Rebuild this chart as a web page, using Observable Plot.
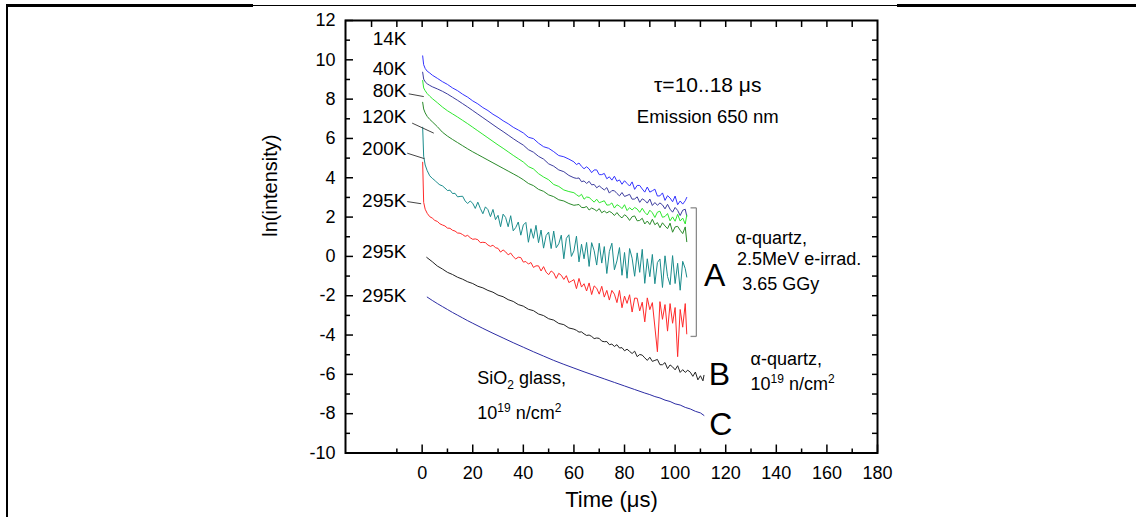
<!DOCTYPE html>
<html><head><meta charset="utf-8">
<script src="https://cdn.jsdelivr.net/npm/d3@7"></script>
<script src="https://cdn.jsdelivr.net/npm/@observablehq/plot@0.6"></script>
<style>
html,body{margin:0;padding:0;background:#fff;}
#wrap{position:relative;width:1136px;height:517px;overflow:hidden;background:#fff;}
#wrap svg{display:block;}
</style></head><body>
<div id="wrap"></div>
<script>
// ---- time grids (µs) ----
const tUpper = [0.2,0.6,1.2,2,3,4,6,8,10,12,14,16,18,20,22,24,26,28,30,32,34,36,38,
  40,42,44,46,48,50,52,54,56,58,
  60,61,62,63,64,65,66,67,68,69,70,71,72,73,74,75,76,77,78,79,80,81,82,83,84,85,86,87,88,89,
  90,91,92,93,94,95,96,97,98,99,100,101,102,103,104,104.6];
const tNoisy = [0.2,0.6,1.2,2,3,4,5,6,7,8,9,10,11,12,13,14,15,16,17,18,19,20,21,22,23,24,25,26,27,28,29,
  30,31,32,33,34,35,36,37,38,39,40,41,42,43,44,45,46,47,48,49,50,51,52,53,54,55,56,57,58,59,
  60,61,62,63,64,65,66,67,68,69,70,71,72,73,74,75,76,77,78,79,80,81,82,83,84,85,86,87,88,89,
  90,91,92,93,94,95,96,97,98,99,100,101,102,103,104,104.6];
const tB = [1.8,4,6,8,10,12,14,16,18,20,22,24,26,28,30,32,34,36,38,40,42,44,46,48,50,52,54,56,58,60,
  61,62,63,64,65,66,67,68,69,70,71,72,73,74,75,76,77,78,79,80,81,82,83,84,85,86,87,88,89,90,
  91,92,93,94,95,96,97,98,99,100,101,102,103,104,105,106,107,108,109,110,111,111.4];
const tC = [2,4,6,8,10,12,14,16,18,20,24,28,32,36,40,44,48,52,56,60,64,68,72,76,80,84,88,90,92,94,96,98,100,102,104,106,108,110,111.4];

// ---- ln(intensity) values ----
const v14K = [10.20,9.75,9.56,9.42,9.33,9.22,9.06,8.89,8.75,8.57,8.43,8.25,8.10,7.91,7.76,7.57,7.42,7.23,7.08,6.90,6.75,6.57,6.43,
  6.28,6.06,5.99,5.76,5.58,5.50,5.33,5.13,5.07,4.95,
  4.81,4.67,4.75,4.58,4.46,4.56,4.45,4.26,4.40,4.40,4.16,4.16,4.22,3.95,4.05,3.88,4.08,3.82,3.89,3.67,
  3.85,3.71,3.58,3.79,3.41,3.61,3.61,3.43,3.27,3.53,3.27,3.34,3.42,3.07,3.08,3.23,2.85,3.09,2.97,2.78,
  3.07,2.63,2.82,2.66,2.83,3.00];
const v40K = [9.37,9.02,8.88,8.78,8.70,8.63,8.52,8.40,8.26,8.10,7.94,7.77,7.60,7.42,7.24,7.06,6.88,6.70,6.52,6.35,6.17,5.99,5.82,
  5.66,5.43,5.30,5.09,4.95,4.71,4.59,4.40,4.31,4.12,
  4.00,3.97,3.99,3.80,3.84,3.71,3.82,3.64,3.66,3.49,3.59,3.48,3.38,3.50,3.22,3.35,3.34,3.20,3.08,3.25,
  3.05,3.10,3.16,2.91,2.92,3.03,2.75,2.93,2.85,2.71,2.92,2.59,2.74,2.60,2.72,2.62,2.42,2.65,2.40,2.25,
  2.49,2.34,2.08,2.35,2.40,2.05];
const v80K = [8.95,8.57,8.43,8.28,8.15,8.03,7.82,7.60,7.41,7.25,7.09,6.92,6.75,6.57,6.39,6.21,6.03,5.85,5.67,5.50,5.32,5.14,4.97,
  4.80,4.57,4.45,4.21,4.04,3.90,3.66,3.56,3.38,3.30,
  3.24,3.14,3.05,3.16,2.91,3.02,3.00,2.88,2.76,2.91,2.73,2.78,2.83,2.61,2.62,2.72,2.46,2.63,2.56,2.43,
  2.63,2.33,2.48,2.36,2.49,2.41,2.24,2.45,2.24,2.11,2.35,2.22,1.98,2.25,2.30,1.99,2.03,2.18,1.81,2.01,
  1.79,2.14,1.80,1.95,1.65,2.10];
const v120K = [7.84,7.50,7.30,7.12,6.97,6.85,6.60,6.32,6.12,5.95,5.79,5.63,5.47,5.32,5.18,5.04,4.90,4.76,4.62,4.48,4.34,4.20,4.06,
  3.90,3.71,3.60,3.41,3.31,3.13,3.04,2.88,2.82,2.69,
  2.60,2.62,2.64,2.49,2.48,2.54,2.36,2.46,2.40,2.31,2.43,2.22,2.31,2.21,2.29,2.22,2.08,2.23,2.06,1.96,
  2.12,2.02,1.83,2.02,2.06,1.81,1.83,1.94,1.65,1.80,1.62,1.89,1.61,1.72,1.46,1.71,1.55,1.41,1.69,1.23,
  1.50,1.53,1.33,1.16,1.50,0.75];
const v200K = [6.57,5.10,4.65,
  4.36,4.10,3.97,3.87,3.74,3.64,3.59,3.48,3.35,3.37,
  3.20,3.21,3.03,3.05,3.06,2.82,2.69,2.82,2.70,2.44,
  2.76,2.44,2.17,2.52,2.38,2.02,2.39,1.87,2.09,1.51,
  2.15,1.98,1.51,2.07,1.30,1.47,1.75,1.08,1.60,1.73,
  0.72,1.41,0.92,1.58,0.70,1.34,0.42,1.06,1.24,0.40,
  1.29,0.44,0.64,1.08,-0.12,0.92,1.10,0.00,0.28,1.03,
  -0.28,0.62,-0.12,0.71,-0.51,0.70,0.29,-0.44,0.67,-0.34,
  0.50,-0.87,0.25,0.67,-0.68,-0.23,0.45,-0.96,0.20,-1.11,
  0.40,-0.09,-1.01,0.18,-0.81,0.36,-1.37,-0.12,-1.03,0.10,
  -1.39,-0.31,-0.13,-1.58,0.03,-1.02,-1.44,0.04,-1.38,-0.35,
  -1.72,-0.25,-0.62,-1.05];
const v295K = [4.79,2.75,2.40,
  2.19,2.02,1.95,1.83,1.78,1.66,1.60,1.55,1.44,1.43,
  1.33,1.29,1.19,1.18,1.11,1.02,1.07,0.95,0.87,0.89,
  0.85,0.70,0.72,0.70,0.58,0.51,0.57,0.44,0.41,0.22,
  0.33,0.23,0.08,0.17,-0.01,-0.13,-0.04,-0.06,-0.29,-0.26,
  -0.39,-0.31,-0.56,-0.48,-0.48,-0.74,-0.52,-0.80,-0.93,-0.74,
  -0.84,-1.12,-0.86,-0.96,-1.17,-0.98,-1.33,-1.26,-1.18,-1.64,
  -1.12,-1.56,-1.39,-1.76,-1.35,-1.94,-1.50,-1.62,-1.92,-1.52,
  -2.07,-1.73,-2.22,-1.73,-1.92,-2.35,-1.73,-2.61,-2.02,-2.39,
  -1.95,-2.83,-2.12,-2.13,-2.77,-2.33,-3.33,-2.11,-2.71,-2.35,
  -3.59,-4.85,-2.30,-3.20,-2.45,-3.80,-2.40,-3.40,-2.60,-5.10,
  -2.70,-3.60,-2.40,-3.94];
const vB = [-0.05,-0.27,-0.49,-0.64,-0.81,-0.92,-1.06,-1.16,-1.29,-1.38,-1.52,-1.60,-1.73,-1.82,-1.97,
  -2.05,-2.20,-2.29,-2.45,-2.53,-2.69,-2.76,-2.93,-3.01,-3.17,-3.24,-3.41,-3.47,-3.64,-3.70,
  -3.76,-3.85,-3.84,-3.94,-4.02,-4.00,-4.07,-4.18,-4.15,-4.17,
  -4.31,-4.34,-4.33,-4.49,-4.46,-4.58,-4.49,-4.66,-4.64,-4.80,
  -4.72,-4.83,-4.94,-4.82,-5.10,-4.99,-5.02,-5.16,-5.29,-5.13,
  -5.34,-5.29,-5.24,-5.51,-5.51,-5.40,-5.71,-5.52,-5.62,-5.77,
  -5.56,-5.90,-5.76,-5.90,-5.79,-5.89,-6.10,-5.88,-6.28,-6.07,
  -6.33,-6.05];
const vC = [-2.07,-2.24,-2.40,-2.55,-2.70,-2.85,-2.99,-3.13,-3.27,-3.40,-3.66,-3.91,-4.15,-4.39,-4.62,-4.85,-5.07,-5.29,-5.49,-5.68,
  -5.87,-6.05,-6.23,-6.41,-6.59,-6.77,-6.95,-7.03,-7.13,-7.20,-7.31,-7.38,-7.50,-7.56,-7.68,-7.76,-7.88,-7.96,-8.09];

const seriesKeys = ["14K","40K","80K","120K","200K","295K A","295K B","295K C"];
const seriesColors = ["#3434ff","#3c3c9e","#2ee82e","#2a8a2a","#1a8c8c","#ff2a2a","#222222","#2c2ca4"];
const seriesT = [tUpper,tUpper,tUpper,tUpper,tNoisy,tNoisy,tB,tC];
const seriesV = [v14K,v40K,v80K,v120K,v200K,v295K,vB,vC];

// ---- ticks ----
const xMajor = [0,20,40,60,80,100,120,140,160,180];
const xMinor = [-10,10,30,50,70,90,110,130,150,170];
const xTop = [-20,-10,0,10,20,30,40,50,60,70,80,90,100,110,120,130,140,150,160,170];
const yMajor = [-10,-8,-6,-4,-2,0,2,4,6,8,10,12];
const yMinor = [-9,-7,-5,-3,-1,1,3,5,7,9,11];
const yRight = [-9,-8,-7,-6,-5,-4,-3,-2,-1,0,1,2,3,4,5,6,7,8,9,10,11];

// ---- annotations ----
const tempLabels = ["14K","40K","80K","120K","200K","295K","295K","295K"];
const tempLabelY = [11.07,9.54,8.44,7.08,5.47,2.84,0.21,-1.99];
const tempLabelX = -6.2;
const leaderX1 = [-5.3,-3.95,-5.9,-5.9];
const leaderY1 = [8.27,6.78,5.25,2.79];
const leaderX2 = [0.65,4.6,0.93,-0.4];
const leaderY2 = [8.13,6.27,4.97,2.68];
const bracketX = [106.1,108.4];
const bracketY = [2.47,-4.07];
const letters = ["A","B","C"];
const letterX = [115.6,117.5,118.1];
const letterY = [-0.97,-6.0,-8.57];
const noteText = ["α-quartz,","2.5MeV e-irrad.","3.65 GGy","α-quartz,","10^{19} n/cm^{2}","SiO_{2} glass,","10^{19} n/cm^{2}"];
const noteX = [123.9,124.5,126.5,129.8,129.8,21.8,21.8];
const noteY = [0.9,-0.12,-1.39,-5.21,-6.52,-6.18,-7.96];
const headText = ["τ=10..18 μs","Emission 650 nm"];
const headX = [112.9,112.9];
const headY = [8.69,7.07];
const headSize = [21,18.5];

const rows = [];
seriesKeys.forEach((k,i)=>seriesT[i].forEach((t,j)=>rows.push({key:k,t,v:seriesV[i][j]})));

const links = leaderX1.map((x,i)=>({x1:x,y1:leaderY1[i],x2:leaderX2[i],y2:leaderY2[i]}));
const bracket = [
  {x1:bracketX[1],y1:bracketY[0],x2:bracketX[1],y2:bracketY[1]},
  {x1:bracketX[0],y1:bracketY[0],x2:bracketX[1],y2:bracketY[0]},
  {x1:bracketX[0],y1:bracketY[1],x2:bracketX[1],y2:bracketY[1]}
];
const idx = a => a.map((_,i)=>i);
const blank = () => "";

const chart = Plot.plot({
  width: 1136, height: 517,
  marginLeft: 345, marginRight: 259, marginTop: 20, marginBottom: 64.5,
  x: {domain: [-30.3, 180], label: null},
  y: {domain: [-10, 12], label: null},
  color: {domain: seriesKeys, range: seriesColors},
  style: {fontFamily: "'Liberation Sans', Arial, sans-serif", background: "white", color: "black"},
  marks: [
    Plot.line(rows, {x:"t", y:"v", z:"key", stroke:"key", strokeWidth:1}),
    Plot.link(links, {x1:"x1",y1:"y1",x2:"x2",y2:"y2", stroke:"#444", strokeWidth:1}),
    Plot.link(bracket, {x1:"x1",y1:"y1",x2:"x2",y2:"y2", stroke:"#8a8a8a", strokeWidth:1.3}),
    Plot.frame({stroke:"black", strokeWidth:2}),
    // inward ticks: drawn outward then shifted back inside the frame
    Plot.axisX({anchor:"bottom", ticks:xMajor, tickSize:8, dy:-8, tickFormat:blank, label:null, strokeWidth:1.5}),
    Plot.axisX({anchor:"bottom", ticks:xMinor, tickSize:4, dy:-4, tickFormat:blank, label:null, strokeWidth:1.5}),
    Plot.axisX({anchor:"top", ticks:xTop, tickSize:6, dy:6, tickFormat:blank, label:null, strokeWidth:1.5}),
    Plot.axisX({anchor:"bottom", ticks:xMajor, tickSize:0, tickPadding:13, fontSize:18, tickFormat:d=>String(d), label:null}),
    Plot.axisY({anchor:"left", ticks:yMajor, tickSize:8, dx:8, tickFormat:blank, label:null, strokeWidth:1.5}),
    Plot.axisY({anchor:"left", ticks:yMinor, tickSize:5, dx:5, tickFormat:blank, label:null, strokeWidth:1.5}),
    Plot.axisY({anchor:"right", ticks:yRight, tickSize:6, dx:-6, tickFormat:blank, label:null, strokeWidth:1.5}),
    Plot.axisY({anchor:"left", ticks:yMajor, tickSize:0, tickPadding:10, fontSize:18, tickFormat:d=>String(d), label:null}),
    Plot.text(["Time (μs)"], {frameAnchor:"bottom", dy:54, fontSize:22}),
    Plot.text(["ln(intensity)"], {frameAnchor:"left", dx:-75, rotate:-90, fontSize:20}),
    Plot.text(idx(tempLabels), {x:()=>tempLabelX, y:i=>tempLabelY[i], text:i=>tempLabels[i], textAnchor:"end", fontSize:19}),
    Plot.text(idx(letters), {x:i=>letterX[i], y:i=>letterY[i], text:i=>letters[i], fontSize:32}),
    Plot.text(idx(noteText), {x:i=>noteX[i], y:i=>noteY[i], text:i=>noteText[i], textAnchor:"start", fontSize:18}),
    Plot.text(idx(headText), {x:i=>headX[i], y:i=>headY[i], text:i=>headText[i], fontSize:i=>headSize[i]})
  ]
});

// super/subscript rendering for marked-up annotation text
d3.select(chart).selectAll("text").each(function(){
  const s = this.textContent;
  if (!/[\^_]\{/.test(s)) return;
  const parts = s.split(/([\^_]\{[^}]*\})/).filter(p=>p);
  while (this.firstChild) this.removeChild(this.firstChild);
  let shift = 0;
  for (const p of parts) {
    const m = p.match(/^([\^_])\{([^}]*)\}$/);
    const ts = d3.select(this).append("tspan");
    if (m) {
      const d = m[1]==="^" ? -7 : 5;
      ts.text(m[2]).attr("font-size","12").attr("dy", d - shift);
      shift = d;
    } else {
      ts.text(p).attr("dy", -shift);
      shift = 0;
    }
  }
});

// page border of the scanned figure (decoration outside the plot area)
const border = d3.select(chart).append("g").attr("stroke","#000").attr("fill","none");
border.append("path").attr("d","M7,5.5H253").attr("stroke-width",3);
border.append("path").attr("d","M253,5.5H897").attr("stroke-width",1);
border.append("path").attr("d","M897,5.5H1136").attr("stroke-width",3);
border.append("path").attr("d","M7,4V517").attr("stroke-width",2);

document.getElementById("wrap").appendChild(chart);
</script></body></html>
